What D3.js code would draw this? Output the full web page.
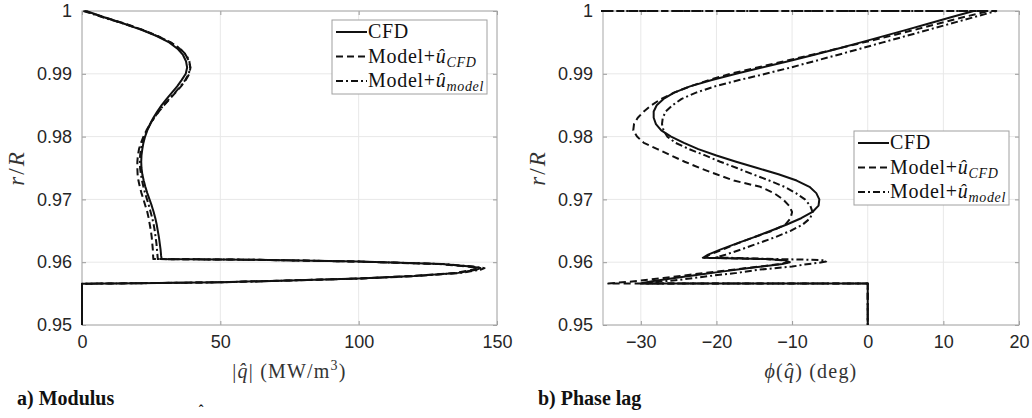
<!DOCTYPE html>
<html>
<head>
<meta charset="utf-8">
<script src="https://cdn.jsdelivr.net/npm/d3@7"></script>
<style>
	body { margin: 0; background: #fff; }
	svg { display: block; }
</style>
</head>
<body>
<svg id="chart" width="1032" height="418"></svg>
<script>
// radial position ticks, shared by both panels
var rTicks = [0.95, 0.96, 0.97, 0.98, 0.99, 1];
var modTicks = [0, 50, 100, 150];
var phaseTicks = [-30, -20, -10, 0, 10, 20];
var seriesNames = ["CFD", "Model+", "Model+"];
var seriesSubs = ["", "CFD", "model"];

// modulus |q| (MW/m3) : [r/R, value]
var modCFD = [
	[1.0000, 1.5], [0.9990, 8], [0.9980, 15], [0.9970, 21.5], [0.9960, 27], [0.9950, 31.5],
	[0.9940, 34.5], [0.9930, 36.5], [0.9920, 37.6], [0.9910, 38], [0.9900, 37.5], [0.9890, 36],
	[0.9880, 34.4], [0.9870, 32.5], [0.9860, 30.6], [0.9850, 28.8], [0.9840, 27.2], [0.9830, 25.8],
	[0.9820, 24.6], [0.9810, 23.6], [0.9800, 22.8], [0.9790, 22.2], [0.9780, 21.8], [0.9770, 21.5],
	[0.9760, 21.4], [0.9750, 21.5], [0.9740, 21.8], [0.9730, 22.3], [0.9720, 22.9], [0.9710, 23.6],
	[0.9700, 24.4], [0.9690, 25.2], [0.9680, 25.9], [0.9670, 26.5], [0.9660, 27], [0.9650, 27.4],
	[0.9640, 27.8], [0.9630, 28.1], [0.9620, 28.4], [0.9610, 28.6], [0.9605, 28.8],
	[0.9604, 60], [0.9601, 100], [0.9597, 130], [0.9593, 140.5], [0.95906, 144], [0.9588, 142.5],
	[0.9583, 136], [0.9578, 120], [0.9574, 100], [0.9571, 75], [0.9568, 50], [0.95665, 20],
	[0.95657, 0], [0.9500, 0]
];
var modModelUcfd = [
	[1.0000, 1], [0.9990, 8], [0.9980, 15.5], [0.9970, 22], [0.9960, 27.5], [0.9950, 32],
	[0.9940, 35.3], [0.9930, 37.5], [0.9920, 38.7], [0.9910, 39.2], [0.9900, 38.8], [0.9890, 37.5],
	[0.9880, 35.8], [0.9870, 33.8], [0.9860, 31.7], [0.9850, 29.7], [0.9840, 27.8], [0.9830, 26.1],
	[0.9820, 24.6], [0.9810, 23.3], [0.9800, 22.2], [0.9790, 21.3], [0.9780, 20.6], [0.9770, 20.2],
	[0.9760, 20], [0.9750, 20], [0.9740, 20.1], [0.9730, 20.4], [0.9720, 20.9], [0.9710, 21.5],
	[0.9700, 22.2], [0.9690, 22.9], [0.9680, 23.6], [0.9670, 24.1], [0.9660, 24.5], [0.9650, 24.9],
	[0.9640, 25.2], [0.9630, 25.4], [0.9620, 25.6], [0.9610, 25.7], [0.9605, 25.8],
	[0.9604, 60], [0.9601, 100], [0.9597, 129], [0.9593, 139.5], [0.95905, 143], [0.9588, 141.5],
	[0.9583, 135], [0.9578, 119], [0.9574, 100], [0.9571, 75], [0.9568, 50], [0.95665, 20],
	[0.95657, 0], [0.9500, 0]
];
var modModelUmodel = [
	[1.0000, 0.5], [0.9990, 7.5], [0.9980, 15], [0.9970, 21.8], [0.9960, 27.3], [0.9950, 32],
	[0.9940, 35.5], [0.9930, 37.7], [0.9920, 38.8], [0.9910, 39.1], [0.9900, 38.6], [0.9890, 37.3],
	[0.9880, 35.6], [0.9870, 33.6], [0.9860, 31.5], [0.9850, 29.5], [0.9840, 27.7], [0.9830, 26.1],
	[0.9820, 24.7], [0.9810, 23.5], [0.9800, 22.5], [0.9790, 21.8], [0.9780, 21.3], [0.9770, 21],
	[0.9760, 20.9], [0.9750, 21], [0.9740, 21.3], [0.9730, 21.7], [0.9720, 22.2], [0.9710, 22.8],
	[0.9700, 23.5], [0.9690, 24.2], [0.9680, 24.8], [0.9670, 25.4], [0.9660, 25.9], [0.9650, 26.3],
	[0.9640, 26.6], [0.9630, 26.9], [0.9620, 27.1], [0.9610, 27.3], [0.9605, 27.4],
	[0.9604, 60], [0.9601, 100], [0.9597, 131], [0.9593, 141.5], [0.95905, 145.5], [0.9588, 144],
	[0.9583, 137], [0.9578, 121], [0.9574, 101], [0.9571, 76], [0.9568, 50], [0.95665, 20],
	[0.95657, 0], [0.9500, 0]
];

// phase lag (deg) : [r/R, value]
var phaseCFD = [
	[1.0000, 14.0], [0.9990, 11.0], [0.9980, 8.1], [0.9970, 5.1], [0.9960, 2.1],
	[0.9950, -0.9], [0.9940, -4.0], [0.9930, -7.2], [0.9920, -10.5], [0.9910, -14.0], [0.9900, -17.4],
	[0.9890, -20.6], [0.9880, -23.5], [0.9870, -25.6], [0.9860, -27.0], [0.9850, -27.9], [0.9840, -28.3],
	[0.9830, -28.3], [0.9820, -28.0], [0.9810, -27.3], [0.9800, -26.0], [0.9790, -24.3], [0.9780, -22.4],
	[0.9770, -20.0], [0.9760, -17.4], [0.9750, -14.6], [0.9740, -11.8], [0.9730, -9.4], [0.9720, -7.7],
	[0.9710, -6.8], [0.9700, -6.4], [0.9690, -6.5], [0.9680, -7.3], [0.9670, -8.8], [0.9660, -10.7],
	[0.9650, -12.8], [0.9640, -15.0], [0.9630, -17.3], [0.9620, -19.5], [0.9612, -21.1], [0.9607, -21.8],
	[0.9606, -17], [0.9605, -13.5], [0.9603, -11], [0.9600, -10.3], [0.9597, -11.3], [0.9594, -13.4],
	[0.9590, -16.2], [0.9585, -19.3], [0.9580, -22.4], [0.9575, -25.5], [0.9570, -28.3], [0.9567, -29.8],
	[0.9566, -30], [0.9566, 0], [0.9500, 0]
];
var phaseModelUcfd = [
	[1.0000, -180], [1.0000, 16.0], [0.9990, 12.6], [0.9980, 9.4], [0.9970, 6.2], [0.9960, 2.9],
	[0.9950, -0.5], [0.9940, -4.0], [0.9930, -7.5], [0.9920, -11.0], [0.9910, -14.6], [0.9900, -18.2],
	[0.9890, -21.0], [0.9880, -23.5], [0.9870, -25.6], [0.9860, -27.3], [0.9850, -28.6], [0.9840, -29.6],
	[0.9830, -30.4], [0.9820, -30.9], [0.9810, -31.0], [0.9800, -30.5], [0.9790, -29.6], [0.9780, -27.8],
	[0.9770, -26.0], [0.9760, -24.2], [0.9750, -22.2], [0.9740, -20.0], [0.9730, -17.7], [0.9720, -14.2],
	[0.9710, -12.4], [0.9700, -11.2], [0.9690, -10.4], [0.9680, -10.0], [0.9670, -10.2], [0.9660, -10.9],
	[0.9650, -12.6], [0.9640, -15.0], [0.9630, -17.2], [0.9620, -19.2], [0.9612, -20.9], [0.9607, -21.6],
	[0.9606, -17], [0.9605, -13.5], [0.9603, -11.2], [0.9600, -10.6], [0.9597, -11.6], [0.9594, -13.6],
	[0.9590, -16.5], [0.9585, -20], [0.9580, -23.5], [0.9575, -27], [0.9570, -30.5], [0.9567, -33.5],
	[0.9566, -34.3], [0.9566, 0], [0.9500, 0]
];
var phaseModelUmodel = [
	[1.0000, -180], [1.0000, 17.0], [0.9990, 14.0], [0.9980, 11.0], [0.9970, 8.0], [0.9960, 5.0],
	[0.9950, 2.0], [0.9940, -1.0], [0.9930, -4.0], [0.9920, -7.1], [0.9910, -10.2], [0.9900, -13.5],
	[0.9890, -17.0], [0.9880, -20.2], [0.9870, -22.7], [0.9860, -24.6], [0.9850, -25.8], [0.9840, -26.7],
	[0.9830, -27.1], [0.9820, -27.2], [0.9810, -27.0], [0.9800, -26.5], [0.9790, -25.4], [0.9780, -23.6],
	[0.9770, -21.5], [0.9760, -19.5], [0.9750, -17.3], [0.9740, -15.2], [0.9730, -13.0], [0.9720, -11.0],
	[0.9710, -9.5], [0.9700, -8.3], [0.9690, -7.6], [0.9680, -7.3], [0.9670, -7.6], [0.9660, -8.6],
	[0.9650, -10.2], [0.9640, -12.2], [0.9630, -14.5], [0.9620, -16.8], [0.9612, -18.8], [0.9608, -20],
	[0.96065, -17], [0.9605, -12], [0.9604, -8], [0.9603, -5.8], [0.9601, -5.5], [0.9599, -6.5],
	[0.9596, -8.5], [0.9593, -10], [0.9588, -14.5], [0.9583, -17.3], [0.9578, -21], [0.9572, -24.8],
	[0.9568, -28.5], [0.9566, -29.8], [0.9566, 0], [0.9500, 0]
];

var DASHES = [null, "7,4", "7,3,2,3"];
var svg = d3.select("#chart");
var SERIF = "'Liberation Serif', 'DejaVu Serif', serif";
var SANS = "'Liberation Sans', Arial, sans-serif";

function drawPanel(id, left, right, domain, ticks, series, legendX, legendY, xlabel, caption) {
	var top = 11, bottom = 325;
	var x = d3.scaleLinear().domain(domain).range([left, right]);
	var y = d3.scaleLinear().domain([0.95, 1]).range([bottom, top]);
	var g = svg.append("g").attr("id", id);

	// grid
	g.append("g").selectAll("line").data(ticks).join("line")
		.attr("x1", d => x(d)).attr("x2", d => x(d))
		.attr("y1", top).attr("y2", bottom)
		.attr("stroke", "#e8e8e8");
	g.append("g").selectAll("line").data(rTicks).join("line")
		.attr("x1", left).attr("x2", right)
		.attr("y1", d => y(d)).attr("y2", d => y(d))
		.attr("stroke", "#e8e8e8");

	// axes, ticks inward
	var bottomAxis = g.append("g").attr("transform", "translate(0," + bottom + ")")
		.call(d3.axisBottom(x).tickValues(ticks).tickSizeInner(-4).tickSizeOuter(0).tickPadding(10));
	var topAxis = g.append("g").attr("transform", "translate(0," + top + ")")
		.call(d3.axisTop(x).tickValues(ticks).tickSizeInner(-4).tickSizeOuter(0).tickFormat(""));
	var leftAxis = g.append("g").attr("transform", "translate(" + left + ",0)")
		.call(d3.axisLeft(y).tickValues(rTicks).tickSizeInner(-4).tickSizeOuter(0).tickPadding(10)
			.tickFormat(d3.format("")));
	var rightAxis = g.append("g").attr("transform", "translate(" + right + ",0)")
		.call(d3.axisRight(y).tickValues(rTicks).tickSizeInner(-4).tickSizeOuter(0).tickFormat(""));
	[bottomAxis, topAxis, leftAxis, rightAxis].forEach(function(a) {
		a.select(".domain").remove();
		a.selectAll("line").attr("stroke", "#9a9a9a");
		a.selectAll("text").attr("font-family", SANS).attr("font-size", 18).attr("fill", "#262626");
	});
	g.append("rect")
		.attr("x", left).attr("y", top)
		.attr("width", right - left).attr("height", bottom - top)
		.attr("fill", "none").attr("stroke", "#a8a8a8");

	// curves
	var clipId = id + "-clip";
	g.append("clipPath").attr("id", clipId).append("rect")
		.attr("x", left - 2).attr("y", top - 2)
		.attr("width", right - left + 4).attr("height", bottom - top + 4);
	var line = d3.line().x(d => x(d[1])).y(d => y(d[0]));
	g.append("g").attr("clip-path", "url(#" + clipId + ")")
		.selectAll("path").data(series).join("path")
		.attr("d", line)
		.attr("fill", "none")
		.attr("stroke", "#111")
		.attr("stroke-width", 2)
		.attr("stroke-linejoin", "round")
		.attr("stroke-dasharray", (d, i) => DASHES[i]);

	// legend
	var leg = g.append("g").attr("transform", "translate(" + legendX + "," + legendY + ")");
	leg.append("rect")
		.attr("width", 155).attr("height", 74)
		.attr("fill", "white").attr("stroke", "#a0a0a0");
	seriesNames.forEach(function(name, i) {
		var cy = 12 + i * 24.5;
		leg.append("line")
			.attr("x1", 4).attr("x2", 35).attr("y1", cy).attr("y2", cy)
			.attr("stroke", "#111").attr("stroke-width", 2)
			.attr("stroke-dasharray", DASHES[i]);
		var t = leg.append("text")
			.attr("x", 36).attr("y", cy + 6)
			.attr("font-family", SERIF).attr("font-size", 20).attr("fill", "#111")
			.attr("letter-spacing", 0.7);
		t.append("tspan").text(name);
		if (seriesSubs[i]) {
			t.append("tspan").attr("font-style", "italic").text("\u00fb");
			t.append("tspan").attr("font-style", "italic").attr("font-size", 14).attr("dy", 4)
				.text(seriesSubs[i]);
		}
	});

	// y label
	var yl = g.append("text")
		.attr("transform", "translate(" + (left - 58) + "," + ((top + bottom) / 2) + ") rotate(-90)")
		.attr("text-anchor", "middle")
		.attr("font-family", SERIF).attr("font-size", 23).attr("fill", "#333")
		.attr("letter-spacing", 2);
	yl.append("tspan").attr("font-style", "italic").text("r");
	yl.append("tspan").text("/");
	yl.append("tspan").attr("font-style", "italic").text("R");

	// x label
	var xl = g.append("text")
		.attr("x", (left + right) / 2).attr("y", 378)
		.attr("text-anchor", "middle")
		.attr("font-family", SERIF).attr("font-size", 20).attr("fill", "#333")
		.attr("letter-spacing", 1.2);
	xlabel(xl);

	g.append("text")
		.attr("x", left - 65).attr("y", 405)
		.attr("font-family", SERIF).attr("font-weight", "bold").attr("font-size", 20)
		.attr("fill", "#111")
		.text(caption);
}

drawPanel("modulus", 82, 497, [0, 150], modTicks,
	[modCFD, modModelUcfd, modModelUmodel], 332, 20,
	function(t) {
		t.append("tspan").text("|");
		t.append("tspan").attr("font-style", "italic").text("q\u0302");
		t.append("tspan").text("| (MW/m");
		t.append("tspan").attr("font-size", 14).attr("dy", -8).text("3");
		t.append("tspan").attr("dy", 8).text(")");
	}, "a) Modulus");

drawPanel("phase", 603, 1019, [-35, 20], phaseTicks,
	[phaseCFD, phaseModelUcfd, phaseModelUmodel], 854, 131,
	function(t) {
		t.append("tspan").attr("font-style", "italic").text("\u03d5");
		t.append("tspan").text("(");
		t.append("tspan").attr("font-style", "italic").text("q\u0302");
		t.append("tspan").text(") (deg)");
	}, "b) Phase lag");

// stray hat from the cropped line below the figure
svg.append("text")
	.attr("x", 201).attr("y", 415)
	.attr("text-anchor", "middle")
	.attr("font-family", SERIF).attr("font-weight", "bold").attr("font-size", 14)
	.attr("fill", "#111")
	.text("\u02c6");
</script>
</body>
</html>
